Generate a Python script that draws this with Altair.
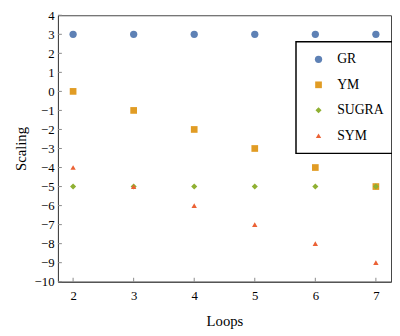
import altair as alt
import pandas as pd

loops = [2, 3, 4, 5, 6, 7]
series_names = ["GR", "YM", "SUGRA", "SYM"]
gr = [3, 3, 3, 3, 3, 3]
ym = [0, -1, -2, -3, -4, -5]
sugra = [-5, -5, -5, -5, -5, -5]
sym = [-4, -5, -6, -7, -8, -9]
y_ticks = list(range(-10, 5))
x_ticks = [2, 3, 4, 5, 6, 7]

colors = ["#5E81B5", "#E19C24", "#8FB032", "#EB6235"]
shapes = ["circle", "square", "diamond", "triangle-up"]
sizes = [55, 30, 80, 75]

rows = []
for name, vals in zip(series_names, [gr, ym, sugra, sym]):
    for x, v in zip(loops, vals):
        rows.append({"Loops": x, "Scaling": v, "series": name})
df = pd.DataFrame(rows)

W, H = 340, 272
FONT = "Liberation Serif"

xscale = alt.Scale(domain=[1.75, 7.25], nice=False, zero=False)
yscale = alt.Scale(domain=[-10, 4], nice=False, zero=False)

leg = dict(title=None, orient="none", legendX=243, legendY=27,
           padding=11, symbolOffset=5, rowPadding=12, labelOffset=12)

minus_expr = "replace(format(datum.value, 'd'), '-', '\u2212')"

xaxis = alt.Axis(values=x_ticks, ticks=False, grid=False, title="Loops",
                 labelPadding=8, titlePadding=12, labelOverlap=False,
                 labelExpr=minus_expr)
yaxis = alt.Axis(values=y_ticks, ticks=False, grid=False, title="Scaling",
                 labelPadding=4, titlePadding=6, labelOverlap=False,
                 labelExpr=minus_expr)

points = alt.Chart(df).mark_point(filled=True, opacity=1, strokeWidth=0).encode(
    x=alt.X("Loops:Q", scale=xscale, axis=xaxis),
    y=alt.Y("Scaling:Q", scale=yscale, axis=yaxis),
    color=alt.Color("series:N", scale=alt.Scale(domain=series_names, range=colors),
                    legend=alt.Legend(**leg)),
    shape=alt.Shape("series:N", scale=alt.Scale(domain=series_names, range=shapes),
                    legend=alt.Legend(**leg)),
    size=alt.Size("series:N", scale=alt.Scale(domain=series_names, range=sizes),
                  legend=alt.Legend(**leg)),
)

yt = alt.Chart(pd.DataFrame({"Scaling": y_ticks})).mark_rule(color="#888", strokeWidth=1).encode(
    y=alt.Y("Scaling:Q", scale=yscale, axis=yaxis), x=alt.value(0), x2=alt.value(4))
xt = alt.Chart(pd.DataFrame({"Loops": x_ticks})).mark_rule(color="#888", strokeWidth=1).encode(
    x=alt.X("Loops:Q", scale=xscale, axis=xaxis), y=alt.value(H), y2=alt.value(H - 4))

chart = alt.layer(points, yt, xt).properties(
    width=W, height=H,
    autosize=alt.AutoSizeParams(type="none"),
    padding={"left": 51, "top": 4, "right": 1, "bottom": 52},
).configure_view(stroke="#444", strokeWidth=1).configure_axis(
    domainColor="#444", labelFont=FONT, labelFontSize=13, labelColor="black",
    titleFont=FONT, titleFontSize=15, titleFontWeight="normal", titleColor="black",
).configure_legend(
    strokeColor="black", strokeWidth=1.5, labelFont=FONT, labelFontSize=14,
    labelColor="black", symbolStrokeWidth=0,
)

chart.save("out.html", embed_options={"renderer": "svg", "actions": False})
